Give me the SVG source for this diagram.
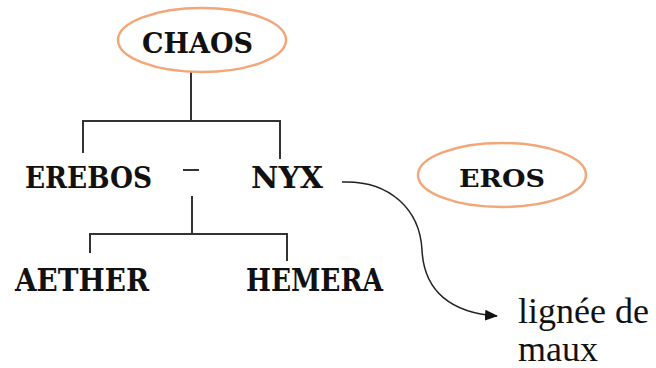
<svg xmlns="http://www.w3.org/2000/svg" width="656" height="368" viewBox="0 0 656 368">
<style>
.ell{fill:none;stroke:#F1A77A;stroke-width:2.5}
.lbl{font-family:"DejaVu Serif","Liberation Serif",serif;font-weight:bold;fill:#111}
.ln{fill:none;stroke:#333;stroke-width:2}
.note{font-family:"Liberation Serif","Times New Roman",serif;font-size:36px;fill:#111}
</style>
<defs>
<marker id="ah" markerWidth="13" markerHeight="11" refX="12" refY="5.5" orient="auto" markerUnits="userSpaceOnUse" viewBox="0 0 13 11">
<path d="M0,0 L13,5.5 L0,11 Z" fill="#111"/>
</marker>
</defs>
<rect width="656" height="368" fill="#fff"/>
<g id="connectors">
<path class="ln" d="M191,72 V121 M83,121 H280 M83,120 V153 M280,120 V159"/>
<path class="ln" d="M183,170 H199"/>
<path class="ln" d="M192,196 V234 M90,234 H287 M90,233 V253 M287,233 V261"/>
<path d="M342,182 C390,180 420,210 422,250 C424,292 452,313 497,316" fill="none" stroke="#222" stroke-width="1.5" marker-end="url(#ah)"/>
</g>
<g id="chaos">
<ellipse class="ell" cx="202" cy="40" rx="84" ry="32"/>
<text class="lbl" x="142" y="53" font-size="27" textLength="111" lengthAdjust="spacingAndGlyphs">CHAOS</text>
</g>
<g id="erebos">
<text class="lbl" x="25" y="188" font-size="29" textLength="127" lengthAdjust="spacingAndGlyphs">EREBOS</text>
</g>
<g id="nyx">
<text class="lbl" x="251" y="188" font-size="29" textLength="72" lengthAdjust="spacingAndGlyphs">NYX</text>
</g>
<g id="eros">
<ellipse class="ell" cx="502" cy="175" rx="84" ry="32"/>
<text class="lbl" x="459" y="187" font-size="25" textLength="86" lengthAdjust="spacingAndGlyphs">EROS</text>
</g>
<g id="aether">
<text class="lbl" x="15" y="291" font-size="31" textLength="134" lengthAdjust="spacingAndGlyphs">AETHER</text>
</g>
<g id="hemera">
<text class="lbl" x="246" y="291" font-size="31" textLength="137" lengthAdjust="spacingAndGlyphs">HEMERA</text>
</g>
<g id="lignee">
<text class="note" x="518" y="323">lignée de</text>
<text class="note" x="518" y="361">maux</text>
</g>
</svg>
